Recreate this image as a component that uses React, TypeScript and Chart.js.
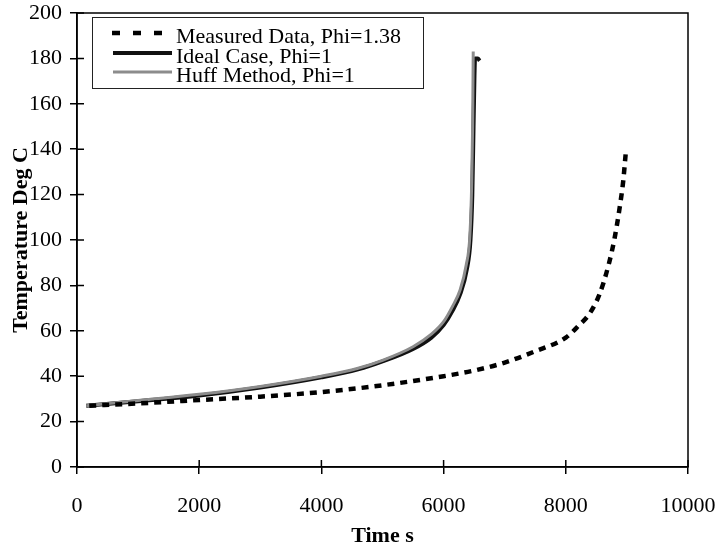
import React, { useEffect, useRef } from "react";
import { Chart, registerables } from "chart.js";

Chart.register(...registerables);

const xTicksLabel = "Time s";
const yTicksLabel = "Temperature Deg C";
const seriesNames = ["Measured Data, Phi=1.38", "Ideal Case, Phi=1", "Huff Method, Phi=1"];

const measuredT = [200, 1000, 2000, 3000, 4000, 5000, 6000, 6500, 7000, 7500, 8000, 8200, 8400, 8550, 8700, 8800, 8880, 8940, 8980];
const measuredV = [27, 28, 29.5, 31, 33, 36, 40, 42.5, 46, 51, 57, 62, 68, 76, 89, 101, 114, 126, 138];

const idealT = [150, 1000, 2000, 3000, 4000, 4600, 5000, 5500, 5800, 6000, 6150, 6270, 6380, 6440, 6470, 6490, 6505, 6515, 6560, 6590];
const idealV = [27, 29, 31.5, 35, 39.5, 43, 46.5, 52, 57, 62.5, 69, 76, 87, 100, 120, 150, 172, 180, 180, 179];

const huffT = [150, 1000, 2000, 3000, 4000, 4600, 5000, 5500, 5800, 6000, 6150, 6270, 6370, 6430, 6460, 6475, 6485];
const huffV = [27, 29.3, 32, 35.5, 40, 43.5, 47, 53, 58.5, 64, 71, 78, 89, 102, 125, 150, 183];

const FONT = '"Liberation Serif", "Times New Roman", serif';

const toPts = (t: number[], v: number[]) => t.map((x, i) => ({ x, y: v[i] }));

const framePlugin = {
  id: "frame",
  afterDraw(chart: any) {
    const { ctx, chartArea } = chart;
    const { left, right, top, bottom } = chartArea;
    ctx.save();
    ctx.strokeStyle = "#000";
    ctx.lineWidth = 1.5;
    ctx.strokeRect(left, top, right - left, bottom - top);
    const xs = chart.scales.x;
    const ys = chart.scales.y;
    ctx.beginPath();
    xs.ticks.forEach((t: any) => {
      const px = xs.getPixelForValue(t.value);
      ctx.moveTo(px, bottom);
      ctx.lineTo(px, bottom - 7);
    });
    ys.ticks.forEach((t: any) => {
      const py = ys.getPixelForValue(t.value);
      ctx.moveTo(left, py);
      ctx.lineTo(left + 7, py);
    });
    ctx.stroke();

    // legend
    const bx = 92, by = 17, bw = 331, bh = 71;
    ctx.fillStyle = "#fff";
    ctx.fillRect(bx, by, bw, bh);
    ctx.strokeStyle = "#222";
    ctx.lineWidth = 1;
    ctx.strokeRect(bx + 0.5, by + 0.5, bw, bh);
    const rows = [33, 53, 72];
    const ds = chart.data.datasets;
    rows.forEach((ry, i) => {
      const d = ds[i];
      ctx.beginPath();
      ctx.strokeStyle = d.borderColor;
      ctx.lineWidth = d.borderWidth;
      if (i === 0) {
        ctx.setLineDash([8, 13]);
        ctx.moveTo(112, ry);
        ctx.lineTo(165, ry);
      } else {
        ctx.setLineDash([]);
        ctx.moveTo(113, ry);
        ctx.lineTo(172, ry);
      }
      ctx.stroke();
      ctx.setLineDash([]);
      ctx.fillStyle = "#000";
      ctx.font = `22px ${FONT}`;
      ctx.textBaseline = "middle";
      ctx.textAlign = "left";
      ctx.fillText(d.label, 176, ry + 4);
    });
    ctx.restore();
  },
};

export default function App() {
  const ref = useRef<HTMLCanvasElement | null>(null);
  useEffect(() => {
    if (!ref.current) return;
    const chart = new Chart(ref.current, {
      type: "scatter",
      data: {
        datasets: [
          {
            label: seriesNames[0],
            data: toPts(measuredT, measuredV),
            showLine: true,
            borderColor: "#000",
            borderWidth: 4.5,
            borderDash: [7, 6],
            borderCapStyle: "butt",
            pointRadius: 0,
            cubicInterpolationMode: "monotone",
            order: 0,
          },
          {
            label: seriesNames[1],
            data: toPts(idealT, idealV),
            showLine: true,
            borderColor: "#111",
            borderWidth: 4,
            pointRadius: 0,
            cubicInterpolationMode: "monotone",
            order: 2,
          },
          {
            label: seriesNames[2],
            data: toPts(huffT, huffV),
            showLine: true,
            borderColor: "#8c8c8c",
            borderWidth: 3,
            pointRadius: 0,
            cubicInterpolationMode: "monotone",
            order: 1,
          },
        ],
      },
      plugins: [framePlugin],
      options: {
        responsive: false,
        animation: false,
        layout: { padding: { left: 0, right: 29, top: 13, bottom: 0 } },
        plugins: { legend: { display: false }, tooltip: { enabled: false } },
        scales: {
          x: {
            type: "linear",
            min: 0,
            max: 10000,
            afterFit: (s: any) => {
              s.height = 83;
              s.paddingLeft = 0;
              s.paddingRight = 0;
            },
            ticks: {
              stepSize: 2000,
              color: "#000",
              font: { family: FONT, size: 22 },
              padding: 19,
              maxRotation: 0,
              callback: (v: any) => String(v),
            },
            grid: {
              display: true,
              drawOnChartArea: false,
              drawTicks: true,
              tickLength: 7,
              color: "#000",
              lineWidth: 1.5,
            },
            border: { display: true, color: "#000", width: 1.5 },
            title: {
              display: true,
              text: xTicksLabel,
              color: "#000",
              font: { family: FONT, size: 22, weight: "bold" },
              padding: { top: 0, bottom: 0 },
            },
          },
          y: {
            type: "linear",
            min: 0,
            max: 200,
            afterFit: (s: any) => {
              s.width = 77;
              s.paddingTop = 0;
              s.paddingBottom = 0;
            },
            ticks: {
              stepSize: 20,
              color: "#000",
              font: { family: FONT, size: 22 },
              padding: 8,
              callback: (v: any) => String(v),
            },
            grid: {
              display: true,
              drawOnChartArea: false,
              drawTicks: true,
              tickLength: 7,
              color: "#000",
              lineWidth: 1.5,
            },
            border: { display: true, color: "#000", width: 1.5 },
            title: {
              display: true,
              text: yTicksLabel,
              color: "#000",
              font: { family: FONT, size: 22, weight: "bold" },
              padding: { top: 8, bottom: 0 },
            },
          },
        },
      },
    } as any);
    return () => chart.destroy();
  }, []);
  return (
    <div style={{ position: "fixed", left: 0, top: 0, width: 717, height: 550, background: "#fff" }}>
      <canvas ref={ref} width={717} height={550} style={{ display: "block", width: 717, height: 550 }} />
    </div>
  );
}
